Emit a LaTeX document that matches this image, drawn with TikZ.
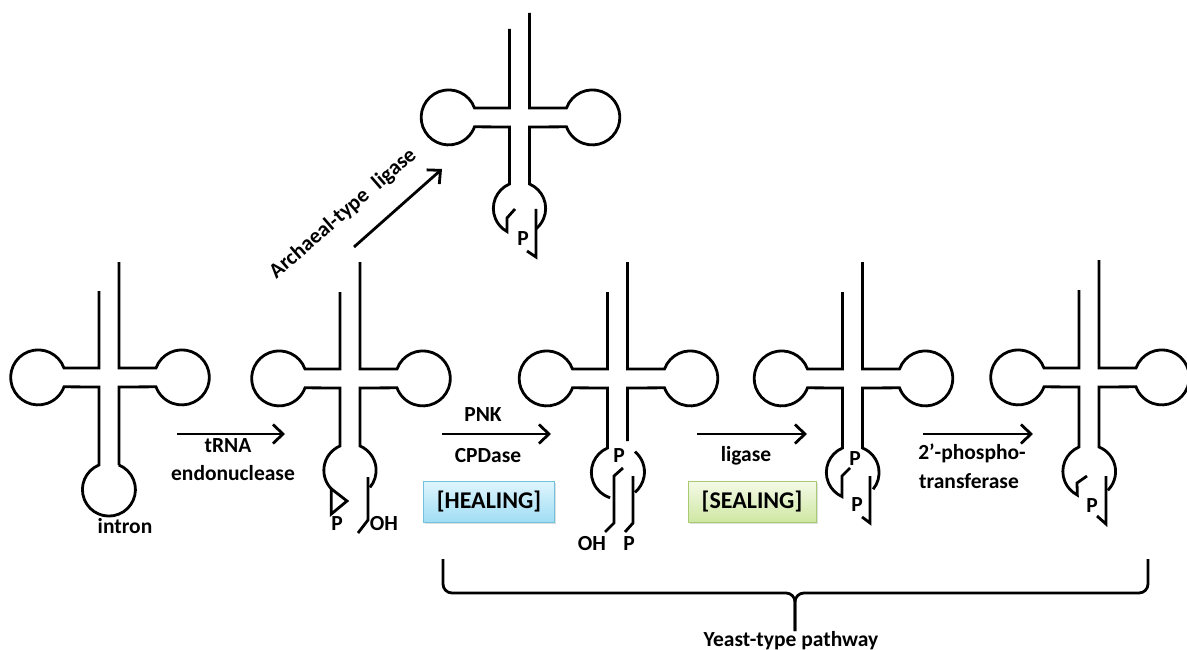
\documentclass[tikz,border=0pt]{standalone}
\usepackage{fontspec}
\setmainfont{Carlito}
\usetikzlibrary{arrows.meta,shadows}

\definecolor{healtop}{RGB}{222,245,253}
\definecolor{healbot}{RGB}{160,221,244}
\definecolor{healedge}{RGB}{112,192,222}
\definecolor{sealtop}{RGB}{244,250,230}
\definecolor{sealbot}{RGB}{206,231,162}
\definecolor{sealedge}{RGB}{168,202,112}

% tRNA cloverleaf: #1 middle x, #2 upper arm y, #3 top of short strand,
% #4 top of long strand, #5 / #6 continuation of left / right lower strand
\newcommand\trnabody[6]{%
  \draw[strand] (#1-10,#3) -- (#1-10,#2) -- (#1-45,#2)
     arc[start angle=-20,end angle=-340,radius=27.5] -- (#1-10,#2+19) #5;
  \draw[strand] (#1+10,#4) -- (#1+10,#2) -- (#1+47,#2)
     arc[start angle=200,end angle=520,radius=27.5] -- (#1+10,#2+19) #6;
}

\begin{document}
\begin{tikzpicture}[x=1pt,y=-1pt,
  strand/.style={line width=2.8pt,line join=miter},
  lbl/.style={font=\fontsize{21.5}{24}\selectfont\bfseries,inner sep=0pt,anchor=base},
  rxn/.style={line width=2.8pt,-{Straight Barb[length=10pt,width=19pt,line width=2.8pt]}},
  brace/.style={line width=2.8pt,rounded corners=9pt},
  stagebox/.style={draw,line width=0.8pt,minimum width=131pt,minimum height=41pt,
    font=\fontsize{24}{27}\selectfont\bfseries,inner sep=0pt,
    drop shadow={shadow xshift=1.5pt,shadow yshift=-1.5pt,opacity=0.25}}]
\useasboundingbox (0,0) rectangle (1187,650);

% --- precursor tRNA with intron
\trnabody{109}{368}{291}{262}{-- (99,465) arc[start angle=248,end angle=-68,radius=26.5]}{-- (119,465)}
\node[lbl] (intron) at (125,533) {intron};

% --- cleaved halves: 2',3'-cyclic phosphate and 5'-OH
\trnabody{350}{369}{292}{262}{-- (340,446) arc[start angle=247,end angle=136,radius=26.5]}{-- (360,446) arc[start angle=293,end angle=400,radius=26.5]}
\draw[strand] (331.3,488.8) -- (347,501) -- (331.3,514) -- cycle;
\draw[strand] (368,477) -- (368,520) -- (358,533);
\node[lbl] (p2) at (337,530) {P};
\node[lbl] (oh2) at (384,530) {OH};

% --- archaeal-type product
\trnabody{519.5}{108}{29}{13}{-- (509.5,184) arc[start angle=247,end angle=119,radius=26.5] -- (507,218) -- (515,209)}{-- (529.5,184) arc[start angle=293,end angle=411,radius=26.5]}
\draw[strand] (536,209) -- (536,257) -- (527,251);
\node[lbl] (ptop) at (523,245) {P};

% --- healed halves
\trnabody{617.5}{369}{292}{262}{-- (607.5,448) arc[start angle=247,end angle=107,radius=26.5]}{-- (627.5,441)}
\draw[strand] (635,451.7) arc[start angle=310,end angle=410,radius=26.5];
\draw[strand] (623,468) -- (614,476) -- (614,523) -- (605,532);
\draw[strand] (633,476) -- (633,523) -- (625,532);
\node[lbl] (p3a) at (619,462) {P};
\node[lbl] (oh3) at (592,550) {OH};
\node[lbl] (p3b) at (629,550) {P};

% --- sealed tRNA with 2'-phosphate
\trnabody{852.5}{369}{292}{262}{-- (842.5,448) arc[start angle=247,end angle=114,radius=26.5] -- (842,476) -- (850,468)}{-- (862.5,448) arc[start angle=292,end angle=399,radius=26.5]}
\draw[strand] (870,476) -- (870,523) -- (862,517);
\node[lbl] (p4a) at (855,465) {P};
\node[lbl] (p4b) at (857,511) {P};

% --- mature tRNA
\trnabody{1089}{368}{290}{260}{-- (1079,447) arc[start angle=247,end angle=117,radius=26.5] -- (1077,483) -- (1087,476)}{-- (1099,447) arc[start angle=292,end angle=405,radius=26.5]}
\draw[strand] (1106,476) -- (1106,524) -- (1097,516);
\node[lbl] (p5) at (1092,512) {P};

% --- reaction arrows
\coordinate (endoS) at (177,434);  \coordinate (endoE) at (285,434);
\coordinate (archS) at (354,247);  \coordinate (archE) at (442,169);
\coordinate (healS) at (442,434);  \coordinate (healE) at (551,434);
\coordinate (sealS) at (697,434);  \coordinate (sealE) at (807,434);
\coordinate (ptS)   at (923,434);  \coordinate (ptE)   at (1033,434);
\draw[rxn] (endoS) -- (endoE);
\draw[rxn] (archS) -- (archE);
\draw[rxn] (healS) -- (healE);
\draw[rxn] (sealS) -- (sealE);
\draw[rxn] (ptS) -- (ptE);

\node[lbl] (trna) at (228,452) {tRNA};
\node[lbl] (endo) at (233,480) {endonuclease};
\node[lbl,anchor=center,rotate=41] (arch) at (343,214) {Archaeal-type\hspace{0.3em} ligase};
\node[lbl] (pnk) at (483,421) {PNK};
\node[lbl] (cpd) at (488,462) {CPDase};
\node[lbl] (lig) at (746,461) {ligase};
\node[lbl] (phos) at (972,459) {2’-phospho-};
\node[lbl] (trans) at (969,488) {transferase};

% --- stage boxes
\node[stagebox,draw=healedge,top color=healtop,bottom color=healbot] (heal) at (489,502) {[HEALING]};
\node[stagebox,draw=sealedge,top color=sealtop,bottom color=sealbot,minimum width=128pt] (seal) at (752,502) {[SEALING]};

% --- pathway brace
\coordinate (brL) at (443,559);
\coordinate (brR) at (1148,559);
\coordinate (brT) at (795,631);
\draw[brace] (brL) -- (443,593) -- (795,593) -- (brT);
\draw[brace] (brR) -- (1148,593) -- (795,593) -- (brT);
\node[lbl] (yeast) at (791,646) {Yeast-type pathway};
\end{tikzpicture}
\end{document}
